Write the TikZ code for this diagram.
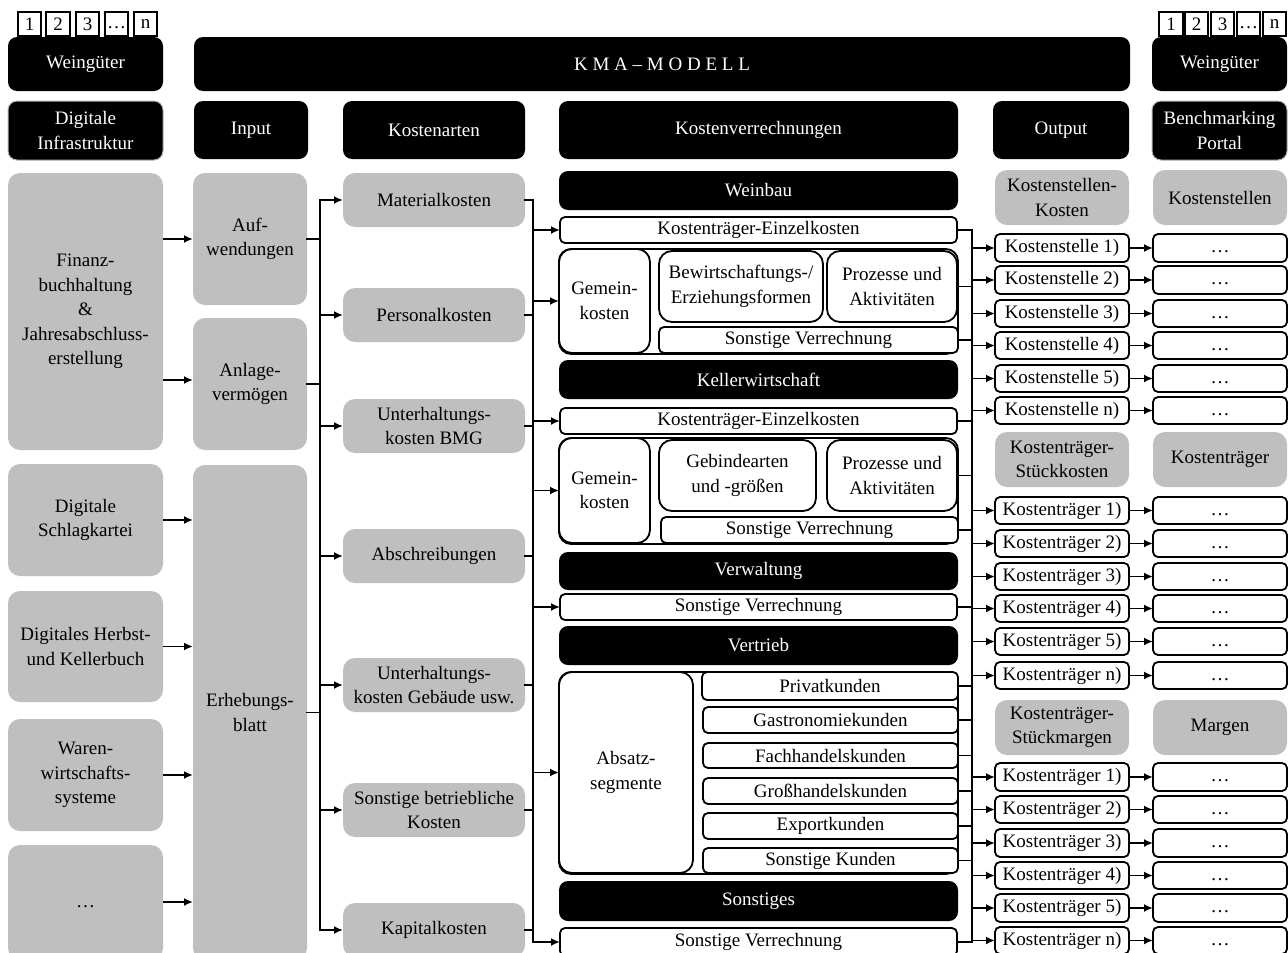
\documentclass[tikz,border=0pt]{standalone}
\usepackage{fontspec}
\setmainfont{Liberation Serif}
\usetikzlibrary{arrows.meta}
\definecolor{gfill}{RGB}{191,191,191}
\newcommand\mkbox[7]{\node[#1, minimum width={(#5)-(#3)}, minimum height={(#6)-(#4)}] (#2) at ({((#3)+(#5))/2},{((#4)+(#6))/2}) {#7};}
\newcommand\dotsx{\strut…}
\tikzset{
 base/.style={inner sep=0pt, outer sep=0pt, align=center, font=\fontsize{19}{24.5}\selectfont},
 gbox/.style={base, fill=gfill, rounded corners=12pt},
 bbox/.style={base, fill=black, text=white, rounded corners=9pt},
 wbox/.style={base, draw=black, line width=1.8pt, fill=white, rounded corners=5pt},
 wbig/.style={base, draw=black, line width=1.8pt, fill=white, rounded corners=13pt},
 grp/.style={base, draw=black, line width=1.8pt, rounded corners=12pt},
 numbox/.style={base, draw=black, line width=1.3pt, fill=white},
 conn/.style={line width=1.8pt, line cap=rect},
 arr/.style={line width=1.8pt, -{Latex[length=9pt,width=8pt]}},
}
\begin{document}
\begin{tikzpicture}[x=1pt,y=-1pt]
\useasboundingbox (0,0) rectangle (1288,953);
% number boxes
\mkbox{numbox}{nl1}{18}{12}{41}{36}{1}
\mkbox{numbox}{nl2}{46}{12}{70}{36}{2}
\mkbox{numbox}{nl3}{76}{12}{99}{36}{3}
\mkbox{numbox,font=\fontsize{19}{20}\selectfont}{nl4}{105}{12}{128}{36}{\raisebox{0pt}[13pt][4pt]{…}}
\mkbox{numbox}{nl5}{134}{12}{157}{36}{n}
\mkbox{numbox}{nr1}{1159}{12}{1183}{36}{1}
\mkbox{numbox}{nr2}{1185}{12}{1208}{36}{2}
\mkbox{numbox}{nr3}{1211}{12}{1234}{36}{3}
\mkbox{numbox,font=\fontsize{19}{20}\selectfont}{nr4}{1237}{12}{1260}{36}{\raisebox{0pt}[13pt][4pt]{…}}
\mkbox{numbox}{nr5}{1263}{12}{1286}{36}{n}
% top row
\mkbox{bbox}{wgl}{8}{37}{163}{91}{Weingüter}
\mkbox{bbox}{kma}{194}{37}{1130}{91}{K M A – M O D E L L}
\mkbox{bbox}{wgr}{1152}{37}{1287}{91}{Weingüter}
% headers
\mkbox{bbox,draw=gray!60,line width=1pt}{hdi}{8}{101}{163}{160}{Digitale\\Infrastruktur}
\mkbox{bbox}{hin}{194}{101}{308}{159}{Input}
\mkbox{bbox}{hka}{343}{101}{525}{159}{Kostenarten}
\mkbox{bbox}{hkv}{559}{101}{958}{159}{Kostenverrechnungen}
\mkbox{bbox}{hout}{993}{101}{1129}{159}{Output}
\mkbox{bbox,draw=gray!60,line width=1pt}{hbp}{1152}{101}{1287}{160}{Benchmarking\\Portal}
% column 1
\mkbox{gbox}{fin}{8}{173}{163}{450}{Finanz-\\buchhaltung\\\&\\Jahresabschluss-\\erstellung}
\mkbox{gbox}{dsk}{8}{464}{163}{576}{Digitale\\Schlagkartei}
\mkbox{gbox}{dhk}{8}{591}{163}{702}{Digitales Herbst-\\und Kellerbuch}
\mkbox{gbox}{wws}{8}{719}{163}{831}{Waren-\\wirtschafts-\\systeme}
\mkbox{gbox}{etc}{8}{845}{163}{960}{\dotsx}
% column 2
\mkbox{gbox}{aufw}{193}{173}{307}{305}{Auf-\\wendungen}
\mkbox{gbox}{anl}{193}{318}{307}{450}{Anlage-\\vermögen}
\mkbox{gbox}{erh}{193}{465}{307}{960}{Erhebungs-\\blatt}
% column 3
\mkbox{gbox}{mat}{343}{173}{525}{227}{Materialkosten}
\mkbox{gbox}{pers}{343}{288}{525}{342}{Personalkosten}
\mkbox{gbox}{ubmg}{343}{399}{525}{453}{Unterhaltungs-\\kosten BMG}
\mkbox{gbox}{abschr}{343}{529}{525}{583}{Abschreibungen}
\mkbox{gbox}{ugeb}{343}{658}{525}{712}{Unterhaltungs-\\kosten Gebäude usw.}
\mkbox{gbox}{sbk}{343}{783}{525}{837}{Sonstige betriebliche\\Kosten}
\mkbox{gbox}{kap}{343}{903}{525}{957}{Kapitalkosten}
% middle: Weinbau
\mkbox{bbox}{wb}{559}{171}{958}{210}{Weinbau}
\mkbox{wbox}{wke}{560}{217}{957}{243}{Kostenträger-Einzelkosten}
\mkbox{grp}{wgrp}{559}{249}{958}{354}{}
\mkbox{wbig}{wgk}{559}{249}{650}{353}{Gemein-\\kosten}
\mkbox{wbig}{wbe}{659}{251}{823}{322}{Bewirtschaftungs-/\\Erziehungsformen}
\mkbox{wbig}{wpa}{827}{251}{957}{322}{Prozesse und\\Aktivitäten}
\mkbox{wbox}{wsv}{659}{327}{958}{353}{Sonstige Verrechnung}
% Kellerwirtschaft
\mkbox{bbox}{kw}{559}{360}{958}{399}{Kellerwirtschaft}
\mkbox{wbox}{kke}{560}{408}{957}{434}{Kostenträger-Einzelkosten}
\mkbox{grp}{kgrp}{559}{438}{958}{544}{}
\mkbox{wbig}{kgk}{559}{438}{650}{543}{Gemein-\\kosten}
\mkbox{wbig}{kgb}{659}{440}{816}{511}{Gebindearten\\und -größen}
\mkbox{wbig}{kpa}{827}{440}{957}{511}{Prozesse und\\Aktivitäten}
\mkbox{wbox}{ksv}{661}{517}{958}{543}{Sonstige Verrechnung}
% Verwaltung
\mkbox{bbox}{vw}{559}{552}{958}{590}{Verwaltung}
\mkbox{wbox}{vsv}{560}{594}{957}{620}{Sonstige Verrechnung}
% Vertrieb
\mkbox{bbox}{vt}{559}{626}{958}{665}{Vertrieb}
\mkbox{grp}{vgrp}{559}{672}{958}{874}{}
\mkbox{wbig}{absz}{559}{672}{693}{873}{Absatz-\\segmente}
\mkbox{wbox}{priv}{702}{672}{958}{700}{Privatkunden}
\mkbox{wbox}{gast}{703}{707}{958}{733}{Gastronomiekunden}
\mkbox{wbox}{fach}{703}{743}{958}{768}{Fachhandelskunden}
\mkbox{wbox}{gross}{703}{778}{958}{804}{Großhandelskunden}
\mkbox{wbox}{expo}{703}{813}{958}{839}{Exportkunden}
\mkbox{wbox}{sonk}{703}{848}{958}{873}{Sonstige Kunden}
% Sonstiges
\mkbox{bbox}{so}{559}{881}{958}{921}{Sonstiges}
\mkbox{wbox}{ssv}{560}{928}{957}{956}{Sonstige Verrechnung}
% Output / Benchmarking
\mkbox{gbox}{oksk}{995}{170}{1129}{225}{Kostenstellen-\\Kosten}
\mkbox{gbox}{bks}{1153}{170}{1287}{225}{Kostenstellen}
\foreach \i/\ya/\yb/\lab in {1/234/262/1), 2/266/294/2), 3/300/327/3), 4/332/359/4), 5/365/392/5), 6/397/424/n)}{
  \mkbox{wbox}{ks\i}{995}{\ya}{1129}{\yb}{Kostenstelle \lab}
  \mkbox{wbox}{bs\i}{1153}{\ya}{1287}{\yb}{\dotsx}
}
\mkbox{gbox}{okts}{995}{432}{1129}{487}{Kostenträger-\\Stückkosten}
\mkbox{gbox}{bkt}{1153}{432}{1287}{487}{Kostenträger}
\foreach \i/\ya/\yb/\lab in {1/497/524/1), 2/530/557/2), 3/563/590/3), 4/595/622/4), 5/628/655/5), 6/662/689/n)}{
  \mkbox{wbox}{kt\i}{995}{\ya}{1129}{\yb}{Kostenträger \lab}
  \mkbox{wbox}{bt\i}{1153}{\ya}{1287}{\yb}{\dotsx}
}
\mkbox{gbox}{oktm}{995}{700}{1129}{755}{Kostenträger-\\Stückmargen}
\mkbox{gbox}{bmg}{1153}{700}{1287}{755}{Margen}
\foreach \i/\ya/\yb/\lab in {1/763/791/1), 2/796/823/2), 3/829/857/3), 4/862/889/4), 5/894/922/5), 6/927/954/n)}{
  \mkbox{wbox}{km\i}{995}{\ya}{1129}{\yb}{Kostenträger \lab}
  \mkbox{wbox}{bm\i}{1153}{\ya}{1287}{\yb}{\dotsx}
}
% connectors col1 -> col2
\draw[arr] (fin.east |- aufw.east) -- (aufw.west);
\draw[arr] (fin.east |- 0,380) -- (anl.west |- 0,380);
\foreach \n in {dsk,dhk,wws} \draw[arr] (\n.east) -- (\n.east -| erh.west);
\draw[arr] (etc.east |- 0,902) -- (erh.west |- 0,902);
% bus 1
\coordinate (b1) at (320,200);
\foreach \n in {aufw,anl,erh} \draw[conn] (\n.east) -- (b1 |- \n.east);
\draw[conn] (b1 |- mat.west) -- (b1 |- kap.west);
\foreach \n in {mat,pers,ubmg,abschr,ugeb,sbk,kap} \draw[arr] (b1 |- \n.west) -- (\n.west);
% bus 2
\coordinate (b2) at (533,200);
\foreach \n in {mat,pers,ubmg,abschr,ugeb,sbk,kap} \draw[conn] (\n.east) -- (b2 |- \n.east);
\draw[conn] (b2 |- mat.east) -- (b2 |- ssv.west);
\foreach \n in {wke,wgk,kke,kgk,vsv,absz,ssv} \draw[arr] (b2 |- \n.west) -- (\n.west);
% bus 3
\coordinate (b3) at (972,200);
\foreach \n in {wke,wpa,wsv,kke,kpa,ksv,vsv,priv,gast,fach,gross,expo,sonk,ssv} \draw[conn] (\n.east) -- (b3 |- \n.east);
\draw[conn] (b3 |- wke.east) -- (b3 |- ssv.east);
\foreach \i in {1,...,6} {
  \draw[arr] (b3 |- ks\i.west) -- (ks\i.west);
  \draw[arr] (b3 |- kt\i.west) -- (kt\i.west);
  \draw[arr] (b3 |- km\i.west) -- (km\i.west);
  \draw[arr] (ks\i.east) -- (bs\i.west);
  \draw[arr] (kt\i.east) -- (bt\i.west);
  \draw[arr] (km\i.east) -- (bm\i.west);
}
\end{tikzpicture}
\end{document}
